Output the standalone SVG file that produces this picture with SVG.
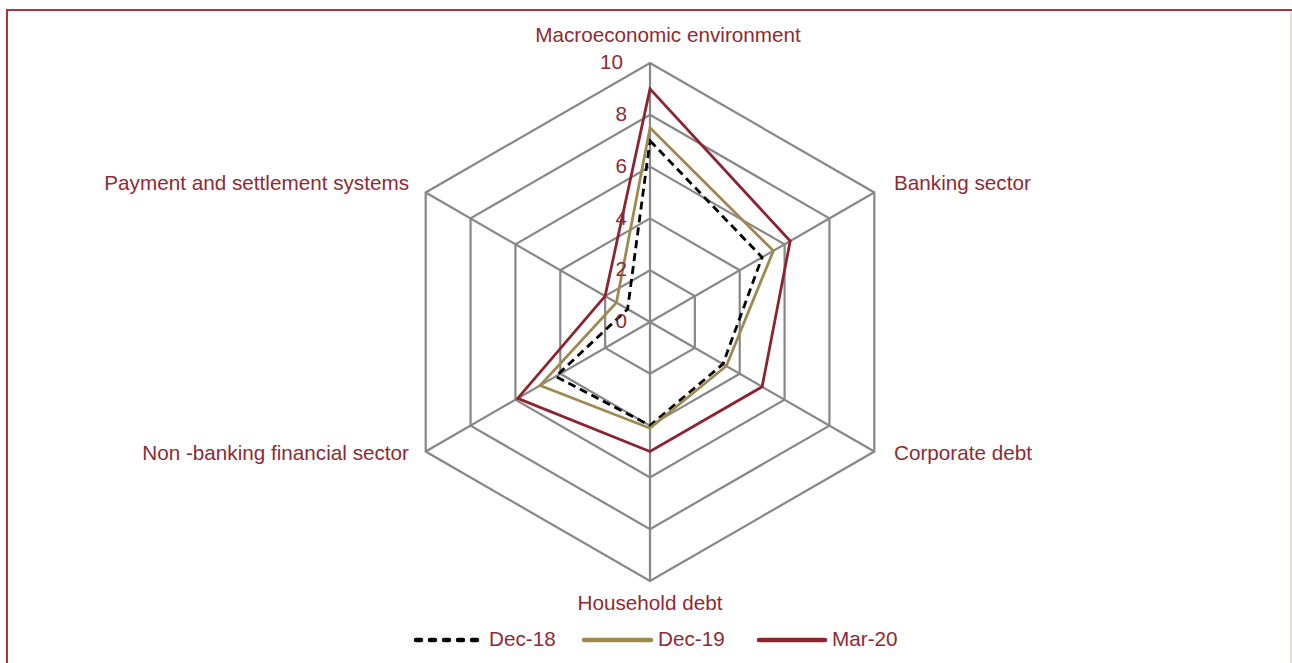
<svg xmlns="http://www.w3.org/2000/svg" width="1292" height="663" viewBox="0 0 1292 663">
<style>
text{font-family:"Liberation Sans",Arial,sans-serif;font-size:20.7px;fill:#8e2a33}
.grid{fill:none;stroke:#878787;stroke-width:2.2}
.s18{fill:none;stroke:#000;stroke-width:2.8;stroke-dasharray:8 5}
.s19{fill:none;stroke:#9e8a50;stroke-width:2.8}
.m20{fill:none;stroke:#8b2430;stroke-width:2.8}
</style>
<rect width="1292" height="663" fill="#fff"/>
<g id="frame" fill="none">
<path d="M7 663 V10 H1292" stroke="#a8343c" stroke-width="2"/>
<line x1="1291" y1="12" x2="1291" y2="663" stroke="#e0c4c8" stroke-width="1.2"/>
</g>
<g id="grid" class="grid">
<polygon points="650,270.2 694.86,296.1 694.86,347.9 650,373.8 605.14,347.9 605.14,296.1"/>
<polygon points="650,218.4 739.72,270.2 739.72,373.8 650,425.6 560.28,373.8 560.28,270.2"/>
<polygon points="650,166.6 784.58,244.3 784.58,399.7 650,477.4 515.42,399.7 515.42,244.3"/>
<polygon points="650,114.8 829.44,218.4 829.44,425.6 650,529.2 470.56,425.6 470.56,218.4"/>
<polygon points="650,63 874.3,192.5 874.3,451.5 650,581 425.7,451.5 425.7,192.5"/>
<path d="M650 322 V63 M650 322 L874.3 192.5 M650 322 L874.3 451.5 M650 322 V581 M650 322 L425.7 451.5 M650 322 L425.7 192.5"/>
</g>
<g id="connectors">
<polygon id="dec18" class="s18" points="650,140.7 762.1,257.3 722.9,364.1 650,425.6 555.8,376.4 627.6,309.1"/>
<polygon id="dec19" class="s19" points="650,127.75 773.4,250.8 726.3,366 650,428.2 540.1,385.5 616.4,302.6"/>
<polygon id="mar20" class="m20" points="650,88.9 790.2,241.05 762.1,386.75 650,451.5 517.7,398.4 605.1,296.1"/>
</g>
<g id="scale">
<text x="600" y="69.3">10</text>
<text x="615.5" y="120.7">8</text>
<text x="615.5" y="173">6</text>
<text x="615.5" y="224.5">4</text>
<text x="615.5" y="276.3">2</text>
<text x="615.5" y="328.3">0</text>
</g>
<g id="axis-macro"><text x="668" y="41.5" text-anchor="middle">Macroeconomic environment</text></g>
<g id="axis-banking"><text x="894" y="189.5">Banking sector</text></g>
<g id="axis-corporate"><text x="894" y="460">Corporate debt</text></g>
<g id="axis-household"><text x="650" y="609.5" text-anchor="middle">Household debt</text></g>
<g id="axis-nbfc"><text x="409" y="460" text-anchor="end">Non -banking financial sector</text></g>
<g id="axis-payment"><text x="409" y="189.5" text-anchor="end">Payment and settlement systems</text></g>
<g id="legend">
<line x1="416" y1="640" x2="482" y2="640" stroke="#000" stroke-width="4.5" stroke-linecap="round" stroke-dasharray="5 9"/>
<text x="489" y="646">Dec-18</text>
<line x1="584" y1="640" x2="651" y2="640" stroke="#9e8a50" stroke-width="4.5" stroke-linecap="round"/>
<text x="658" y="646">Dec-19</text>
<line x1="759" y1="640" x2="825" y2="640" stroke="#8b2430" stroke-width="4.5" stroke-linecap="round"/>
<text x="832" y="646">Mar-20</text>
</g>
</svg>
